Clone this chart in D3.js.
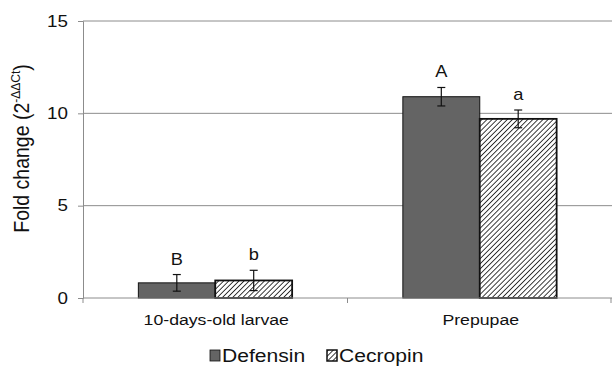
<!DOCTYPE html>
<html>
<head>
<meta charset="utf-8">
<script src="https://cdn.jsdelivr.net/npm/d3@7"></script>
<style>
  body { margin: 0; background: #fff; }
  svg { display: block; font-family: Arial, "Liberation Sans", sans-serif; }
</style>
</head>
<body>
<div id="chart"></div>
<script>
// data
const categories = ["10-days-old larvae", "Prepupae"];
const seriesNames = ["Defensin", "Cecropin"];
const defensin = [0.82, 10.9];
const cecropin = [0.95, 9.7];
const defensinErr = [0.45, 0.5];
const cecropinErr = [0.55, 0.48];
const defensinLetters = ["B", "A"];
const cecropinLetters = ["b", "a"];
const yTicks = [0, 5, 10, 15];

const width = 612, height = 366;
const margin = {top: 21, right: 0, bottom: 68, left: 83};
const stretch = 1.14; // the picture's text is a bit wide

const svg = d3.select("#chart").append("svg")
  .attr("width", width)
  .attr("height", height);

const defs = svg.append("defs");
const pat = defs.append("pattern")
  .attr("id", "hatch")
  .attr("patternUnits", "userSpaceOnUse")
  .attr("width", 3.6).attr("height", 3.6)
  .attr("patternTransform", "rotate(45)");
pat.append("rect").attr("width", 3.6).attr("height", 3.6).attr("fill", "#fff");
pat.append("line").attr("x1", 0).attr("y1", 0).attr("x2", 0).attr("y2", 3.6)
  .attr("stroke", "#1a1a1a").attr("stroke-width", 1.7);

const x = d3.scaleBand()
  .domain(categories)
  .range([margin.left, width - margin.right])
  .paddingInner(0).paddingOuter(0);

const x1 = d3.scaleBand()
  .domain(seriesNames)
  .range([0, x.bandwidth()])
  .paddingOuter(0.72).paddingInner(0);

const y = d3.scaleLinear()
  .domain([0, 15])
  .range([height - margin.bottom, margin.top]);

// wide text helper
function label(g, tx, ty, str, size, anchor) {
  return g.append("text")
    .attr("transform", `translate(${tx},${ty}) scale(${stretch},1)`)
    .attr("text-anchor", anchor || "middle")
    .attr("font-size", size)
    .attr("fill", "#111")
    .text(str);
}

// gridlines
svg.append("g")
  .selectAll("line")
  .data(yTicks.filter(d => d > 0))
  .join("line")
  .attr("x1", margin.left).attr("x2", width - margin.right)
  .attr("y1", d => y(d)).attr("y2", d => y(d))
  .attr("stroke", "#8c8c8c").attr("stroke-width", 1);

// y axis
const yAxis = svg.append("g")
  .attr("transform", `translate(${margin.left},0)`)
  .call(d3.axisLeft(y).tickValues(yTicks).tickSize(5).tickFormat(""));
yAxis.select(".domain").attr("stroke", "#8c8c8c");
yAxis.selectAll(".tick line").attr("stroke", "#8c8c8c");
const yLab = svg.append("g");
yTicks.forEach(t => label(yLab, 68, y(t) + 5.5, d3.format("d")(t), 16.5, "end"));

// bars
const rows = categories.map((c, i) => [
  {cat: c, s: "Defensin", v: defensin[i], e: defensinErr[i], l: defensinLetters[i]},
  {cat: c, s: "Cecropin", v: cecropin[i], e: cecropinErr[i], l: cecropinLetters[i]}
]).flat();

const bars = svg.append("g");
bars.selectAll("rect")
  .data(rows)
  .join("rect")
  .attr("x", d => x(d.cat) + x1(d.s))
  .attr("width", x1.bandwidth())
  .attr("y", d => y(d.v))
  .attr("height", d => y(0) - y(d.v))
  .attr("fill", d => d.s === "Defensin" ? "#646464" : "url(#hatch)")
  .attr("stroke", "#111")
  .attr("stroke-width", d => d.s === "Defensin" ? 1 : 1.8);

// x axis
const xAxisG = svg.append("g");
xAxisG.append("line")
  .attr("x1", margin.left).attr("x2", width - margin.right)
  .attr("y1", y(0)).attr("y2", y(0))
  .attr("stroke", "#8c8c8c");
const bounds = [x.range()[0], ...categories.map(c => x(c) + x.bandwidth())];
xAxisG.selectAll(".xt")
  .data(bounds)
  .join("line")
  .attr("x1", d => Math.min(d, width - 1)).attr("x2", d => Math.min(d, width - 1))
  .attr("y1", y(0)).attr("y2", y(0) + 5)
  .attr("stroke", "#8c8c8c");
categories.forEach(c => label(xAxisG, x(c) + x.bandwidth() / 2 + 1, y(0) + 27, c, 15.5));

// error bars
const err = svg.append("g").attr("stroke", "#111").attr("stroke-width", 1.2);
rows.forEach(d => {
  const cx = x(d.cat) + x1(d.s) + x1.bandwidth() / 2;
  err.append("line").attr("x1", cx).attr("x2", cx).attr("y1", y(d.v + d.e)).attr("y2", y(d.v - d.e));
  err.append("line").attr("x1", cx - 4).attr("x2", cx + 4).attr("y1", y(d.v + d.e)).attr("y2", y(d.v + d.e));
  err.append("line").attr("x1", cx - 4).attr("x2", cx + 4).attr("y1", y(d.v - d.e)).attr("y2", y(d.v - d.e));
});

// letters
const letters = svg.append("g");
rows.forEach(d => label(letters, x(d.cat) + x1(d.s) + x1.bandwidth() / 2, y(d.v + d.e) - 10, d.l, 16));

// y title
const title = svg.append("text")
  .attr("transform", `translate(29,${(y(0) + y(15)) / 2 - 11}) rotate(-90) scale(1,${stretch})`)
  .attr("text-anchor", "middle")
  .attr("font-size", 19.5)
  .attr("fill", "#111");
title.append("tspan").text("Fold change (2");
title.append("tspan").attr("font-size", 12).attr("dy", -8).text("-ΔΔCt");
title.append("tspan").attr("dy", 8).text(")");

// legend
const legend = svg.append("g").attr("transform", `translate(0,${height - 4})`);
const legendX = [210, 327];
seriesNames.forEach((s, i) => {
  legend.append("rect")
    .attr("x", legendX[i]).attr("y", -12)
    .attr("width", 10).attr("height", 11)
    .attr("fill", s === "Defensin" ? "#646464" : "url(#hatch)")
    .attr("stroke", "#111").attr("stroke-width", s === "Defensin" ? 0.8 : 1.5);
  label(legend, legendX[i] + 12, 0, s, 18.5, "start");
});
</script>
</body>
</html>
